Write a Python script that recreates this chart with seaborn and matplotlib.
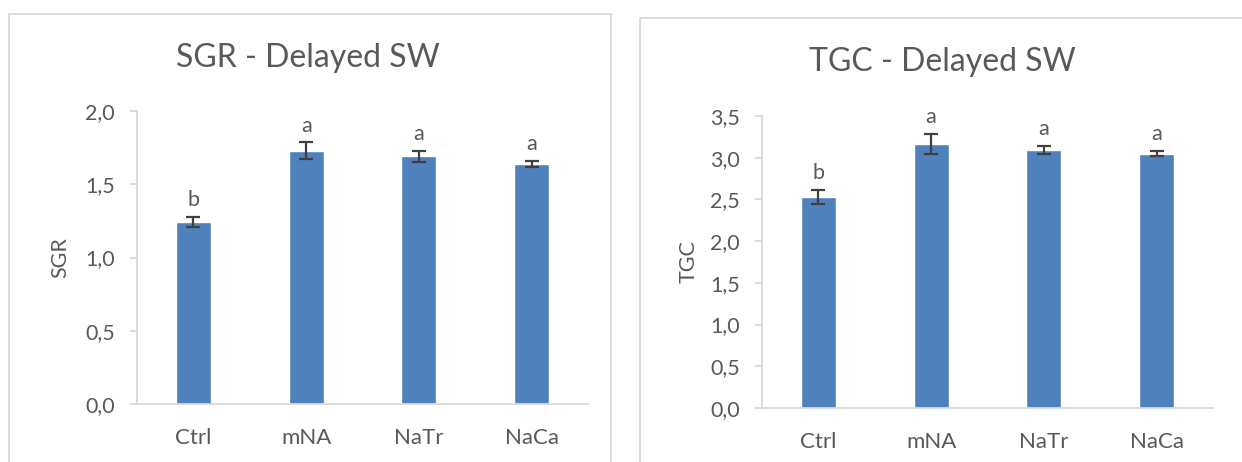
import matplotlib
matplotlib.use("Agg")
import matplotlib.pyplot as plt
from matplotlib.patches import Rectangle
from matplotlib.ticker import FuncFormatter, MultipleLocator
import seaborn as sns
import pandas as pd

categories = ["Ctrl", "mNA", "NaTr", "NaCa"]
sgr_values = [1.24, 1.73, 1.69, 1.64]
sgr_errors = [0.035, 0.055, 0.04, 0.02]
sgr_letters = ["b", "a", "a", "a"]
tgc_values = [2.53, 3.16, 3.09, 3.05]
tgc_errors = [0.08, 0.12, 0.05, 0.03]
tgc_letters = ["b", "a", "a", "a"]

sns.set_theme(style="white")
plt.rcParams["font.family"] = ["Lato", "DejaVu Sans"]

TXT = "#595959"
AX = "#d9d9d9"
BAR = "#4f81bd"
ERR = "#404040"

W, H = 1242, 462
fig = plt.figure(figsize=(W / 100, H / 100), dpi=100)
fig.patch.set_facecolor("white")

# panel frames
for (x0, y0, x1) in [(9, 14, 611), (640, 18, 1250)]:
    fig.patches.append(Rectangle((x0 / W, -0.05), (x1 - x0) / W, (H - y0) / H + 0.05,
                                 transform=fig.transFigure, fill=False,
                                 edgecolor=AX, linewidth=1.3))

def comma_fmt(v, pos):
    return f"{v:.1f}".replace(".", ",")

def panel(rect, values, errors, letters, title, ylabel, ymax, title_xy, ylabel_x):
    ax = fig.add_axes(rect)
    df = pd.DataFrame({"cat": categories, "val": values})
    sns.barplot(data=df, x="cat", y="val", color=BAR, saturation=1, width=0.31,
                errorbar=None, ax=ax)
    ax.errorbar(range(len(categories)), values, yerr=errors, fmt="none",
                ecolor=ERR, elinewidth=1.6, capsize=5, capthick=1.6)
    for i, (v, e, l) in enumerate(zip(values, errors, letters)):
        ax.annotate(l, (i, v + e), xytext=(0, 5), textcoords="offset points",
                    ha="center", va="bottom", fontsize=15.5, color=TXT)
    ax.set_xlim(-0.5, len(categories) - 0.5)
    ax.set_ylim(0, ymax)
    ax.yaxis.set_major_locator(MultipleLocator(0.5))
    ax.yaxis.set_major_formatter(FuncFormatter(comma_fmt))
    ax.set_xlabel("")
    ax.set_ylabel("")
    for s in ["top", "right"]:
        ax.spines[s].set_visible(False)
    for s in ["left", "bottom"]:
        ax.spines[s].set_color(AX)
        ax.spines[s].set_linewidth(1.3)
    ax.tick_params(axis="y", which="major", left=True, length=5, width=1.3,
                   color=AX, labelsize=15.5, labelcolor=TXT, pad=11)
    ax.tick_params(axis="x", bottom=False, labelsize=16, labelcolor=TXT, pad=11)
    ax.set_facecolor("white")
    fig.text(title_xy[0] / W, 1 - title_xy[1] / H, title, ha="center", va="center",
             fontsize=23, color=TXT)
    yc = rect[1] + rect[3] / 2
    fig.text(ylabel_x / W, yc, ylabel, rotation=90, ha="center", va="center",
             fontsize=15.5, color=TXT)
    return ax

panel([137 / W, (H - 404) / H, 451 / W, 293 / H], sgr_values, sgr_errors, sgr_letters,
      "SGR - Delayed SW", "SGR", 2.0, (308, 58), 60)
panel([762 / W, (H - 408) / H, 451 / W, 292 / H], tgc_values, tgc_errors, tgc_letters,
      "TGC - Delayed SW", "TGC", 3.5, (942, 62), 689)

fig.savefig("out.png", dpi=100, facecolor="white")
